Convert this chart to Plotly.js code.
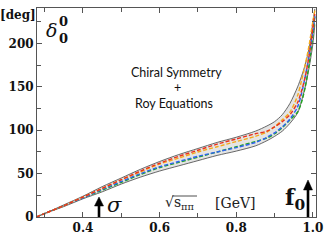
<!DOCTYPE html>
<html><head><meta charset="utf-8">
<script src="https://cdn.plot.ly/plotly-3.0.1.min.js"></script>
<style>html,body{margin:0;padding:0;background:#fff}#c{width:327px;height:245px}</style>
</head><body><div id="c"></div>
<script>
// sqrt(s) in GeV
const energy    = [0.278, 0.30, 0.35, 0.40, 0.45, 0.50, 0.55, 0.60, 0.65, 0.70, 0.75, 0.80, 0.85, 0.88, 0.90, 0.92, 0.94, 0.96, 0.97, 0.98, 0.99, 1.00, 1.005];
// phase shift delta_0^0 in degrees
const bandUpper = [0, 4, 14, 24, 35, 45, 55, 64, 72, 79, 86, 92, 99, 105, 110, 118, 131, 150, 162, 176, 195, 225, 240];
const bandLower = [0, 4, 12, 21, 29, 38, 46, 53, 59, 65, 71, 76, 82, 88, 93, 99, 108, 120, 133, 150, 172, 200, 222];
const redFit    = [0, 4, 13, 23, 33, 43, 53, 62, 70, 77, 84, 90, 96, 99, 104, 110, 118, 132, 145, 162, 186, 218, 234];
const orangeFit = [0, 4, 13, 23, 33, 43, 52, 61, 68, 75, 81, 87, 93, 98, 104, 112, 121, 140, 157, 176, 198, 226, 238];
const blueFit   = [0, 4, 13, 22, 32, 41, 50, 58, 64, 70, 75, 80, 86, 92, 97, 104, 113, 127, 142, 162, 186, 215, 232];
const greenFit  = [0, 4, 13, 22, 31, 40, 49, 57, 63, 69, 75, 81, 87, 91, 96, 103, 112, 121, 132, 150, 176, 210, 232];
const xTicks = [0.4, 0.6, 0.8, 1.0];
const xTickText = ['0.4', '0.6', '0.8', '1.0'];
const yTicks = [0, 50, 100, 150, 200];

const serif = 'DejaVu Serif';
const dash = '4px,2px';
function ln(color, width, d) { return {color: color, width: width, dash: d, shape: 'spline', smoothing: 0.8}; }
const traces = [
  {x: energy, y: bandLower, mode: 'lines', line: ln('#444', 0.8, 'solid'), hoverinfo: 'skip'},
  {x: energy, y: bandUpper, mode: 'lines', fill: 'tonexty', fillcolor: '#e4e4e4', line: ln('#444', 0.8, 'solid'), hoverinfo: 'skip'},
  {x: energy, y: greenFit, mode: 'lines', line: ln('#1fa51f', 1.4, dash)},
  {x: energy, y: blueFit, mode: 'lines', line: ln('#2f62f0', 1.4, dash)},
  {x: energy, y: orangeFit, mode: 'lines', line: ln('#f5a91a', 1.4, dash)},
  {x: energy, y: redFit, mode: 'lines', line: ln('#e8321e', 1.4, dash)}
];

const ax = {
  showgrid: false, zeroline: false, showline: true, linecolor: '#555', linewidth: 1,
  mirror: 'ticks', ticks: 'inside', ticklen: 5, tickcolor: '#555', tickwidth: 1,
  tickfont: {family: serif, size: 12, color: '#111', weight: 'bold'}
};
function px(p) { return (p - 37) / 279; }
function py(p) { return (217 - p) / 209; }
function arrow(xp, tail, shaftTop, tip) {
  return [
    {type: 'line', xref: 'paper', yref: 'paper', x0: px(xp), x1: px(xp), y0: py(tail), y1: py(shaftTop),
     line: {color: '#000', width: 2.6}},
    {type: 'path', xref: 'paper', yref: 'paper', fillcolor: '#000', line: {color: '#000', width: 0.5},
     path: 'M' + px(xp - 4.5) + ',' + py(shaftTop + 1) + ' L' + px(xp + 4.5) + ',' + py(shaftTop + 1) +
           ' L' + px(xp) + ',' + py(tip) + ' Z'}
  ];
}
const shapes = [].concat(
  arrow(99, 217, 205, 197),
  arrow(308, 217, 189, 180),
  [{type: 'line', xref: 'paper', yref: 'paper', x0: px(172), x1: px(197), y0: py(196), y1: py(196),
    line: {color: '#222', width: 0.8}}]
);
function note(x, y, text, font, extra) {
  return Object.assign({xref: 'paper', yref: 'paper', x: px(x), y: py(y), text: text, showarrow: false,
    xanchor: 'center', yanchor: 'middle', borderpad: 0, font: font}, extra || {});
}
const layout = {
  width: 327, height: 245,
  margin: {l: 37, r: 11, t: 8, b: 28},
  paper_bgcolor: '#fff', plot_bgcolor: '#fff',
  showlegend: false,
  xaxis: Object.assign({}, ax, {range: [0.280, 1.008], tickvals: xTicks, ticktext: xTickText,
    minor: {dtick: 0.1, tick0: 0.3, ticks: 'inside', ticklen: 4, tickcolor: '#555'}}),
  yaxis: Object.assign({}, ax, {range: [0, 241], tickvals: yTicks,
    minor: {dtick: 25, tick0: 0, ticks: 'inside', ticklen: 4, tickcolor: '#555'}}),
  shapes: shapes,
  annotations: [
    note(18, 15, '[deg]', {family: serif, size: 12, color: '#111', weight: 'bold'}),
    note(58, 30, 'δ', {family: serif, size: 19, color: '#111', style: 'italic'}, {xanchor: 'right'}),
    note(58, 30, '0', {family: serif, size: 13, color: '#111', weight: 'bold'}, {xanchor: 'left', yanchor: 'bottom'}),
    note(58, 30, '0', {family: serif, size: 13, color: '#111', weight: 'bold'}, {xanchor: 'left', yanchor: 'top'}),
    note(176, 72, 'Chiral Symmetry', {family: 'Lato', size: 12.5, color: '#111'}),
    note(177, 87, '+', {family: 'Lato', size: 12.5, color: '#111'}),
    note(174, 103, 'Roy Equations', {family: 'Lato', size: 12.5, color: '#111'}),
    note(114, 205, 'σ', {family: serif, size: 21, color: '#111', style: 'italic'}),
    note(180, 203, '√s<sub>ππ</sub>', {family: serif, size: 14, color: '#222'}),
    note(235, 203, '[GeV]', {family: serif, size: 14, color: '#222'}),
    note(295, 199, 'f<sub>0</sub>', {family: serif, size: 22, color: '#111', weight: 'bold'})
  ]
};
Plotly.newPlot('c', traces, layout, {staticPlot: true, displayModeBar: false});
</script></body></html>
